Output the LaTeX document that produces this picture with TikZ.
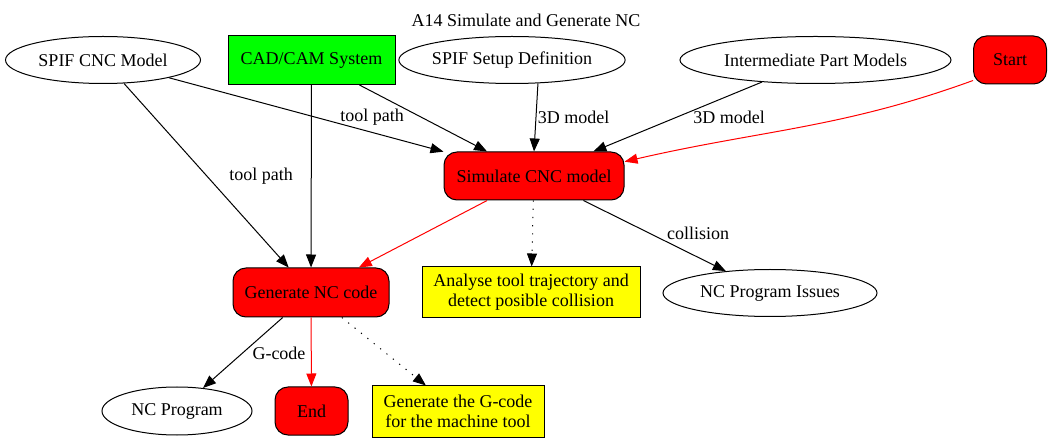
\documentclass[tikz,border=0pt]{standalone}
\usepackage{fontspec}
\setmainfont{Liberation Serif}
\usetikzlibrary{arrows.meta,shapes.geometric}
\definecolor{gvred}{HTML}{FF0000}
\definecolor{gvgreen}{HTML}{00FF00}
\definecolor{gvyellow}{HTML}{FFFF00}
\tikzset{
  every node/.style={font=\fontsize{18}{20}\selectfont, inner sep=0pt, align=center},
  ell/.style={draw=black, ellipse, line width=1pt},
  redbox/.style={draw=black, fill=gvred, rounded corners=13pt, line width=1pt},
  ylwbox/.style={draw=black, fill=gvyellow, line width=1pt},
  grnbox/.style={draw=black, fill=gvgreen, line width=1pt},
  lbl/.style={},
  arr/.style={draw=black, line width=1pt, -{Triangle[length=13pt,width=10pt]}},
  redarr/.style={draw=gvred, line width=1pt, -{Triangle[length=13pt,width=10pt]}},
  dotarr/.style={draw=black, line width=1pt, dash pattern=on 1.2pt off 7pt, -{Triangle[length=13pt,width=10pt]}},
}
\begin{document}
\begin{tikzpicture}[x=1pt,y=-1pt]
\fill[white] (0,0) rectangle (1052,443);
\useasboundingbox (0,0) rectangle (1052,443);

\node (title) at (526,20) {A14 Simulate and Generate NC};

% top row
\node[ell, minimum width=195pt, minimum height=47pt] (cncmodel) at (103,60) {SPIF CNC Model};
\node[grnbox, minimum width=167pt, minimum height=49pt] (cadcam) at (311.5,60) {CAD/CAM System};
\node[ell, minimum width=190pt, minimum height=47pt] (setup) at (512,60) {SPIF Setup Definition};
\node[ell, minimum width=271pt, minimum height=47pt] (interm) at (815.5,60) {Intermediate Part Models};
\node[redbox, minimum width=73pt, minimum height=48pt] (start) at (1010,60) {Start};

% middle
\node[redbox, minimum width=180pt, minimum height=48pt] (sim) at (534,176) {Simulate CNC model};

% third row
\node[redbox, minimum width=156pt, minimum height=49pt] (gen) at (311,292.5) {Generate NC code};
\node[ylwbox, minimum width=218pt, minimum height=51pt] (analyse) at (531,292.5) {Analyse tool trajectory and\\detect posible collision};
\node[ell, minimum width=214pt, minimum height=47pt] (issues) at (770,293) {NC Program Issues};

% bottom row
\node[ell, minimum width=150pt, minimum height=48pt] (ncprog) at (177,411) {NC Program};
\node[redbox, minimum width=73pt, minimum height=48pt] (endn) at (311.5,411) {End};
\node[ylwbox, minimum width=172pt, minimum height=51pt] (gcode) at (458,411.5) {Generate the G-code\\for the machine tool};

% edges
\draw[arr] (cncmodel) -- (gen);
\draw[arr] (cncmodel) -- (sim);
\draw[arr] (cadcam) -- (gen);
\draw[arr] (cadcam) -- (sim);
\draw[arr] (setup.-42) -- (sim.north);
\draw[arr] (interm) -- (sim);
\draw[redarr] (start.209) to[out=200,in=13] (sim.9);
\draw[redarr] (sim) -- (gen);
\draw[dotarr] (sim) -- (analyse);
\draw[arr] (sim) -- (issues);
\draw[arr] (gen) -- (ncprog);
\draw[redarr] (gen) -- (endn);
\draw[dotarr] (gen) -- (gcode);

% edge labels
\node[lbl] (l1) at (261,176) {tool path};
\node[lbl] (l2) at (372,117) {tool path};
\node[lbl] (l3) at (573.5,117) {3D model};
\node[lbl] (l4) at (729,117) {3D model};
\node[lbl] (l5) at (698,233) {collision};
\node[lbl] (l6) at (279,353) {G-code};
\end{tikzpicture}
\end{document}
